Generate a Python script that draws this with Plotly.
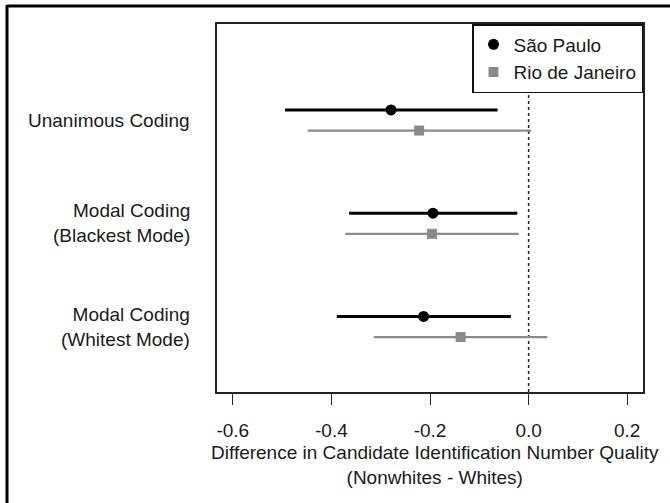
import plotly.graph_objects as go

# ---- data ----
categories = ["Unanimous Coding", "Modal Coding<br>(Blackest Mode)", "Modal Coding<br>(Whitest Mode)"]
cat_pos = [3, 2, 1]
sp_est = [-0.279, -0.194, -0.213]
sp_lo = [-0.494, -0.364, -0.389]
sp_hi = [-0.063, -0.023, -0.036]
rj_est = [-0.222, -0.196, -0.138]
rj_lo = [-0.448, -0.372, -0.314]
rj_hi = [0.005, -0.020, 0.038]
x_ticks = [-0.6, -0.4, -0.2, 0.0, 0.2]
x_ticktext = ["-0.6", "-0.4", "-0.2", "0.0", "0.2"]

FONT = "Liberation Sans, Arial, Helvetica, sans-serif"
TXT = "#1a1a1a"
W, H = 670, 503
L, R, T, B = 217, 27, 24, 111
pw, ph = W - L - R, H - T - B

fig = go.Figure()

fig.add_trace(go.Scatter(
    x=sp_est, y=[p + 0.1 for p in cat_pos], mode="markers", name="São Paulo",
    marker=dict(symbol="circle", size=11, color="black"),
    error_x=dict(type="data", symmetric=False,
                 array=[h - e for h, e in zip(sp_hi, sp_est)],
                 arrayminus=[e - l for e, l in zip(sp_est, sp_lo)],
                 width=0, thickness=3, color="black"),
))
fig.add_trace(go.Scatter(
    x=rj_est, y=[p - 0.1 for p in cat_pos], mode="markers", name="Rio de Janeiro",
    marker=dict(symbol="square", size=10, color="#8a8a8a"),
    error_x=dict(type="data", symmetric=False,
                 array=[h - e for h, e in zip(rj_hi, rj_est)],
                 arrayminus=[e - l for e, l in zip(rj_est, rj_lo)],
                 width=0, thickness=2.2, color="#8a8a8a"),
))

shapes = [
    dict(type="line", xref="x", yref="paper", x0=0, x1=0, y0=0, y1=1,
         line=dict(color="#222", width=1.5, dash="dot"), layer="below"),
    # outer frame (top & left)
    dict(type="line", xref="paper", yref="paper",
         x0=(7 - L) / pw, x1=(W + 5 - L) / pw, y0=1 + (T - 6) / ph, y1=1 + (T - 6) / ph,
         line=dict(color="black", width=3)),
    dict(type="line", xref="paper", yref="paper",
         x0=(7 - L) / pw, x1=(7 - L) / pw, y0=1 + (T - 5) / ph, y1=-(B + 5) / ph,
         line=dict(color="black", width=3)),
]

annotations = []
for c, p in zip(categories, cat_pos):
    annotations.append(dict(
        x=(192 - L) / pw, xref="paper", y=p, yref="y", text=c, showarrow=False,
        xanchor="right", yanchor="middle", align="right",
        font=dict(family=FONT, size=19, color=TXT)))
annotations.append(dict(
    x=(435 - L) / pw, xref="paper", y=-(465 - 392) / ph, yref="paper",
    text="Difference in Candidate Identification Number Quality<br>(Nonwhites - Whites)",
    showarrow=False, xanchor="center", yanchor="middle", align="center",
    font=dict(family=FONT, size=19, color=TXT)))

fig.update_layout(
    width=W, height=H,
    margin=dict(l=L, r=R, t=T, b=B, autoexpand=False),
    paper_bgcolor="white", plot_bgcolor="white",
    font=dict(family=FONT, size=19, color=TXT),
    showlegend=True,
    legend=dict(x=1, y=1, xanchor="right", yanchor="top",
                bgcolor="white", bordercolor="#111", borderwidth=1.5,
                font=dict(family=FONT, size=19, color=TXT),
                itemsizing="trace", tracegroupgap=4),
    shapes=shapes, annotations=annotations,
    xaxis=dict(range=[-0.632, 0.232], tickvals=x_ticks, ticktext=x_ticktext,
               ticks="outside", ticklen=11, tickwidth=1.3, tickcolor="#222",
               ticklabelstandoff=9,
               showline=True, linecolor="#222", linewidth=1.5, mirror=True,
               showgrid=False, zeroline=False,
               tickfont=dict(family=FONT, size=19, color=TXT)),
    yaxis=dict(range=[0.368, 3.932], showticklabels=False, ticks="",
               showline=True, linecolor="#222", linewidth=1.5, mirror=True,
               showgrid=False, zeroline=False),
)

fig.write_html("out.html")
